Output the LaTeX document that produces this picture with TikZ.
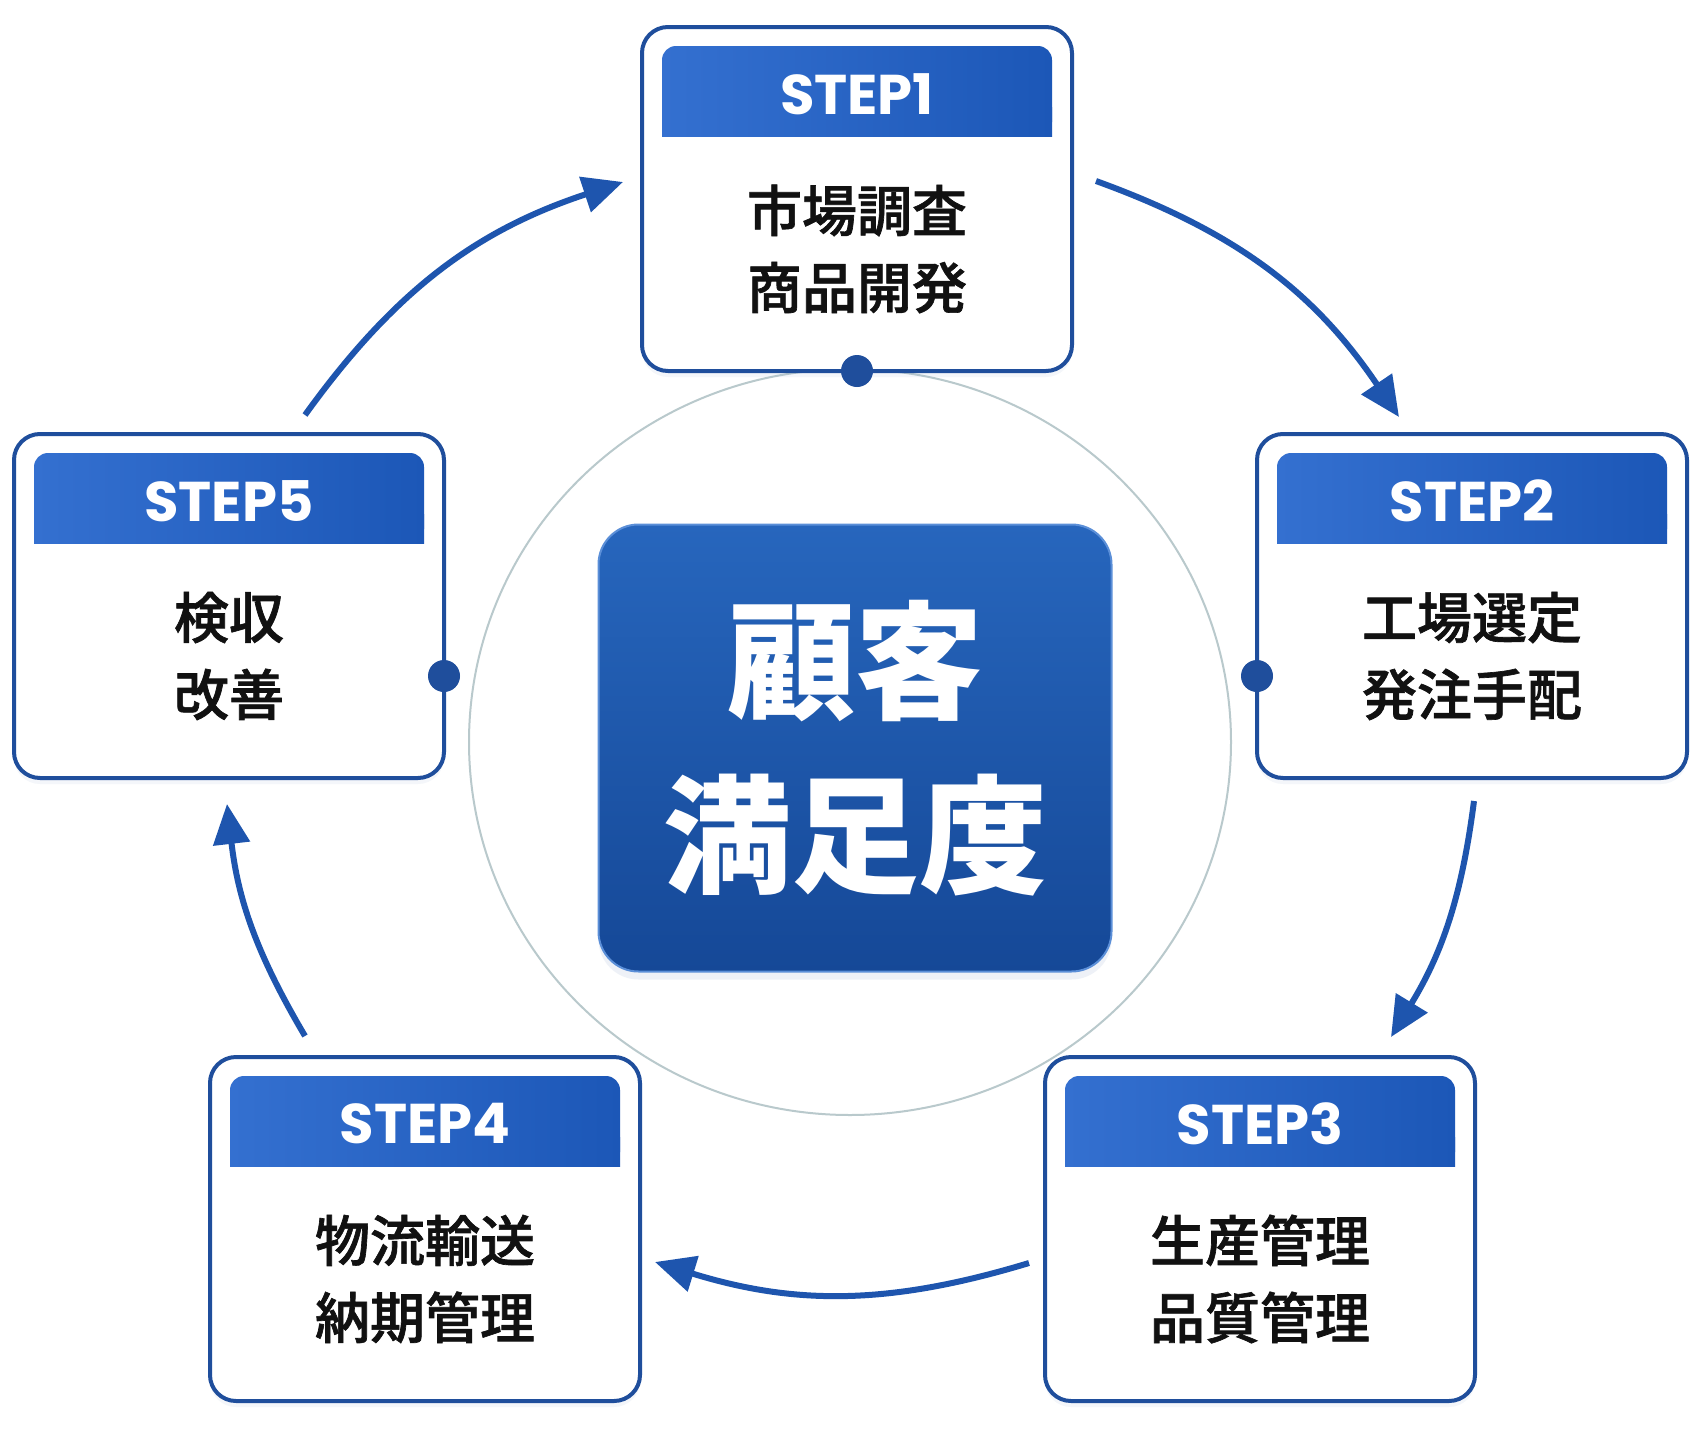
\documentclass[tikz,border=0pt]{standalone}
\usepackage{fontspec}
\newfontfamily\cjk{Noto Sans CJK JP}
\newfontfamily\cjkm{Noto Sans CJK JP}[UprightFont={* Medium}, UprightFeatures={FakeBold=1.2}]
\newfontfamily\stepfont{Poppins}
\usetikzlibrary{arrows.meta,shadows,calc,shapes.geometric}
\definecolor{frame}{HTML}{1F4E9C}
\definecolor{hdrL}{HTML}{3470D0}
\definecolor{hdrR}{HTML}{1C57B7}
\definecolor{ctrT}{HTML}{2766BD}
\definecolor{ctrB}{HTML}{154897}
\definecolor{ctrRim}{HTML}{5B8FD8}
\definecolor{ring}{HTML}{B9C9CC}
\definecolor{flowc}{HTML}{1E55AE}
\definecolor{ink}{HTML}{111111}
\begin{document}
\begin{tikzpicture}[x=1pt,y=-1pt,
  stepbox/.style={draw=frame, line width=4pt, fill=white, rounded corners=26pt,
    minimum width=430pt, minimum height=344pt, inner sep=0pt, outer sep=0pt,
    drop shadow={shadow xshift=0pt, shadow yshift=-6pt, opacity=0.12, fill=frame!40}},
  hdr/.style={rounded corners=14pt, left color=hdrL, right color=hdrR,
    minimum width=390pt, minimum height=90pt, inner sep=0pt, outer sep=0pt},
  hdrpatch/.style={left color=hdrL, right color=hdrR},
  steplabel/.style={text=white, font=\stepfont\bfseries\fontsize{56}{60}\selectfont, inner sep=0pt},
  body/.style={text=ink, align=center, font=\cjkm\fontsize{55}{77}\selectfont, inner sep=0pt},
  dot/.style={circle, fill=frame, minimum size=32pt, inner sep=0pt},
  flow/.style={draw=flowc, line width=6pt, -{Triangle[length=40pt,width=36pt]}},
  ctrbox/.style={rounded corners=40pt, top color=ctrT, bottom color=ctrB, draw=ctrRim, line width=2pt,
    minimum width=513pt, minimum height=447pt, inner sep=0pt, align=center, text=white,
    font=\cjk\bfseries\fontsize{128}{174}\selectfont,
    drop shadow={shadow xshift=0pt, shadow yshift=-8pt, opacity=0.15, fill=frame!50}}
]
\useasboundingbox (0,0) rectangle (1698,1432);
\fill[white] (0,0) rectangle (1698,1432);

% ring
\node[ellipse, draw=ring, line width=2pt, minimum width=762pt, minimum height=746pt, inner sep=0pt] (ring) at (850,742) {};

% center
\node[ctrbox] (center) at (855,748) {顧客\\満足度};

% boxes
\foreach \n/\cx/\cy/\lab/\la/\lb in {
  s1/857/199/STEP1/市場調査/商品開発,
  s2/1472/606/STEP2/工場選定/発注手配,
  s3/1260/1229/STEP3/生産管理/品質管理,
  s4/425/1229/STEP4/物流輸送/納期管理,
  s5/229/606/STEP5/検収/改善}{
  \node[stepbox] (\n) at (\cx,\cy) {};
  \shade[hdrpatch] (\cx-195,\cy-172+80) rectangle (\cx+195,\cy-172+109);
  \node[hdr] (\n h) at (\cx,\cy-108) {};
  \node[steplabel] (\n l) at (\cx,\cy-105) {\lab};
  \node[body] (\n t) at (\cx,\cy+50) {\la\\\lb};
}

% dots
\node[dot] (d1) at (s1.south) {};
\node[dot] (d2) at ([yshift=-70pt]s2.west) {};
\node[dot] (d5) at ([yshift=-70pt]s5.east) {};

% arrows
\coordinate (a1s) at (305,415);  \coordinate (a1e) at (623,182);
\coordinate (a2s) at (1096,181); \coordinate (a2e) at (1399,417);
\coordinate (a3s) at (1474,801); \coordinate (a3e) at (1391,1037);
\coordinate (a4s) at (1029,1263); \coordinate (a4e) at (655,1262);
\coordinate (a5s) at (305,1036); \coordinate (a5e) at (227,804);
\draw[flow] (a1s) to[bend left=18] (a1e);
\draw[flow] (a2s) to[bend left=18] (a2e);
\draw[flow] (a3s) to[bend left=12] (a3e);
\draw[flow] (a4s) to[bend left=17] (a4e);
\draw[flow] (a5s) to[bend left=12] (a5e);
\end{tikzpicture}
\end{document}
